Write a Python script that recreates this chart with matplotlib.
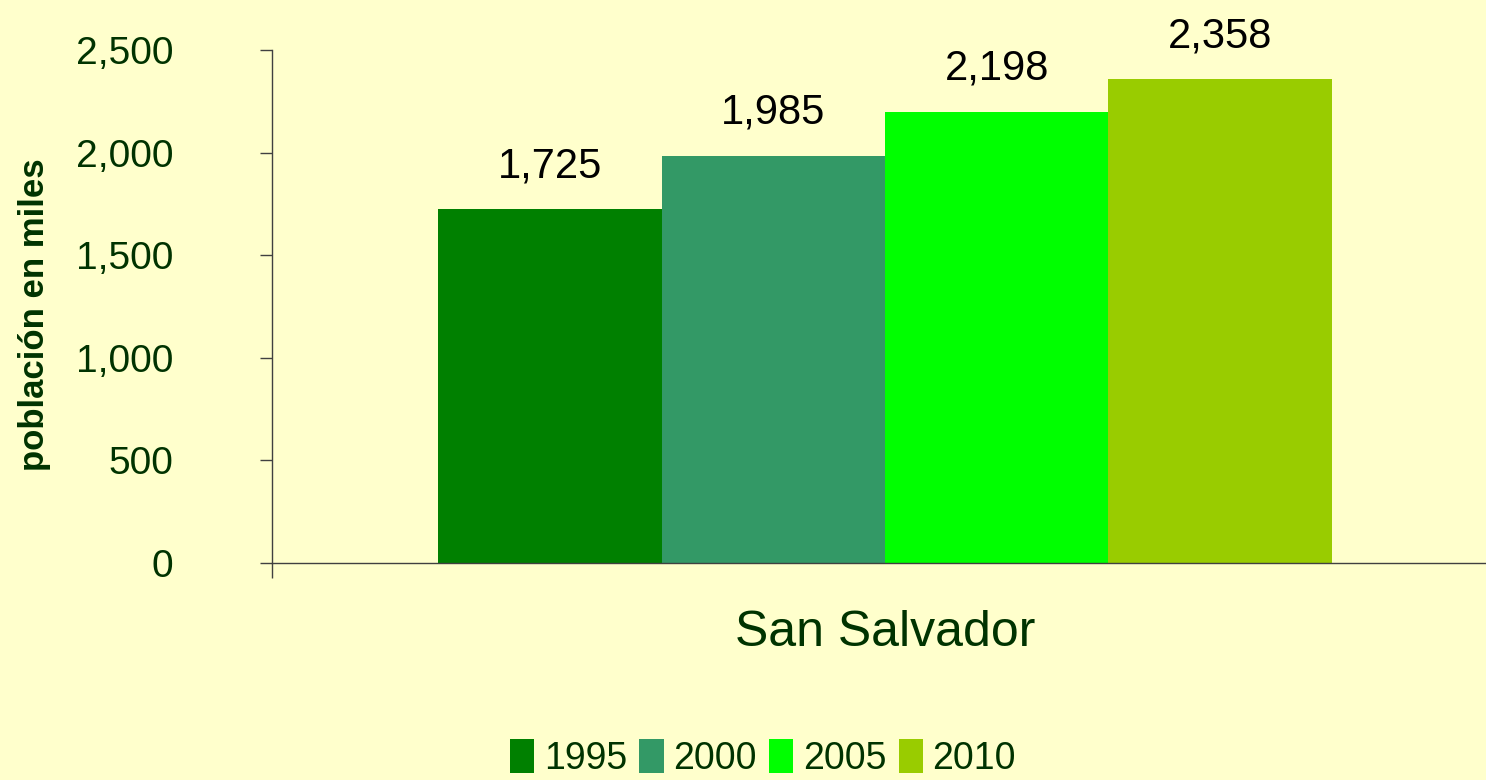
import matplotlib
matplotlib.use("Agg")
import matplotlib.pyplot as plt
import numpy as np

# data
category = "San Salvador"
years = ["1995", "2000", "2005", "2010"]
values = [1725, 1985, 2198, 2358]
value_labels = ["1,725", "1,985", "2,198", "2,358"]
yticks = [0, 500, 1000, 1500, 2000, 2500]
ytick_labels = ["0", "500", "1,000", "1,500", "2,000", "2,500"]

colors = ["#008000", "#339966", "#00FF00", "#99CC00"]
bg = "#FFFFCC"
txt = "#003300"

plt.rcParams["font.family"] = ["Liberation Sans", "DejaVu Sans"]

W, H = 1486, 780
fig = plt.figure(figsize=(W / 100, H / 100), dpi=100, facecolor=bg)
ax = fig.add_axes([272 / W, 1 - 563 / H, (1498 - 272) / W, (563 - 50) / H])
ax.set_facecolor(bg)

w = 0.1823
for i, (yr, v, lab, c) in enumerate(zip(years, values, value_labels, colors)):
    x = (i - 1.5) * w
    ax.bar(x, v, width=w, color=c, label=yr, zorder=2)
    ax.text(x, v + 112, lab, ha="center", va="bottom", fontsize=30, color="black")

ax.set_xlim(-0.5, 0.5)
ax.set_ylim(0, 2500)
ax.set_yticks(yticks)
ax.set_yticklabels(ytick_labels, fontsize=28, color=txt)
ax.tick_params(axis="y", direction="out", length=9, width=1, color="#404040", pad=62)

ax.set_xticks([0])
ax.set_xticklabels([category], fontsize=36, color=txt)
ax.set_xticks([-0.5, 0.5], minor=True)
ax.tick_params(axis="x", which="major", length=0, pad=34)
ax.tick_params(axis="x", which="minor", direction="out", length=11, width=1, color="#404040")

for s in ["top", "right"]:
    ax.spines[s].set_visible(False)
for s in ["left", "bottom"]:
    ax.spines[s].set_color("#404040")
    ax.spines[s].set_linewidth(1)
    ax.spines[s].set_zorder(3)

fig.text(35 / W, 1 - 315 / H, "población en miles", rotation=90, ha="center", va="center",
         fontsize=25, fontweight="bold", color=txt)

handles, labels = ax.get_legend_handles_labels()
leg = fig.legend(handles, labels, ncol=4, frameon=False, fontsize=27,
                 loc="lower left", bbox_to_anchor=(510 / W, 3 / H),
                 handlelength=0.65, handleheight=1.0, handletextpad=0.25,
                 columnspacing=0.33, borderpad=0, borderaxespad=0)
for t in leg.get_texts():
    t.set_color(txt)

fig.savefig("out.png", dpi=100, facecolor=bg)
